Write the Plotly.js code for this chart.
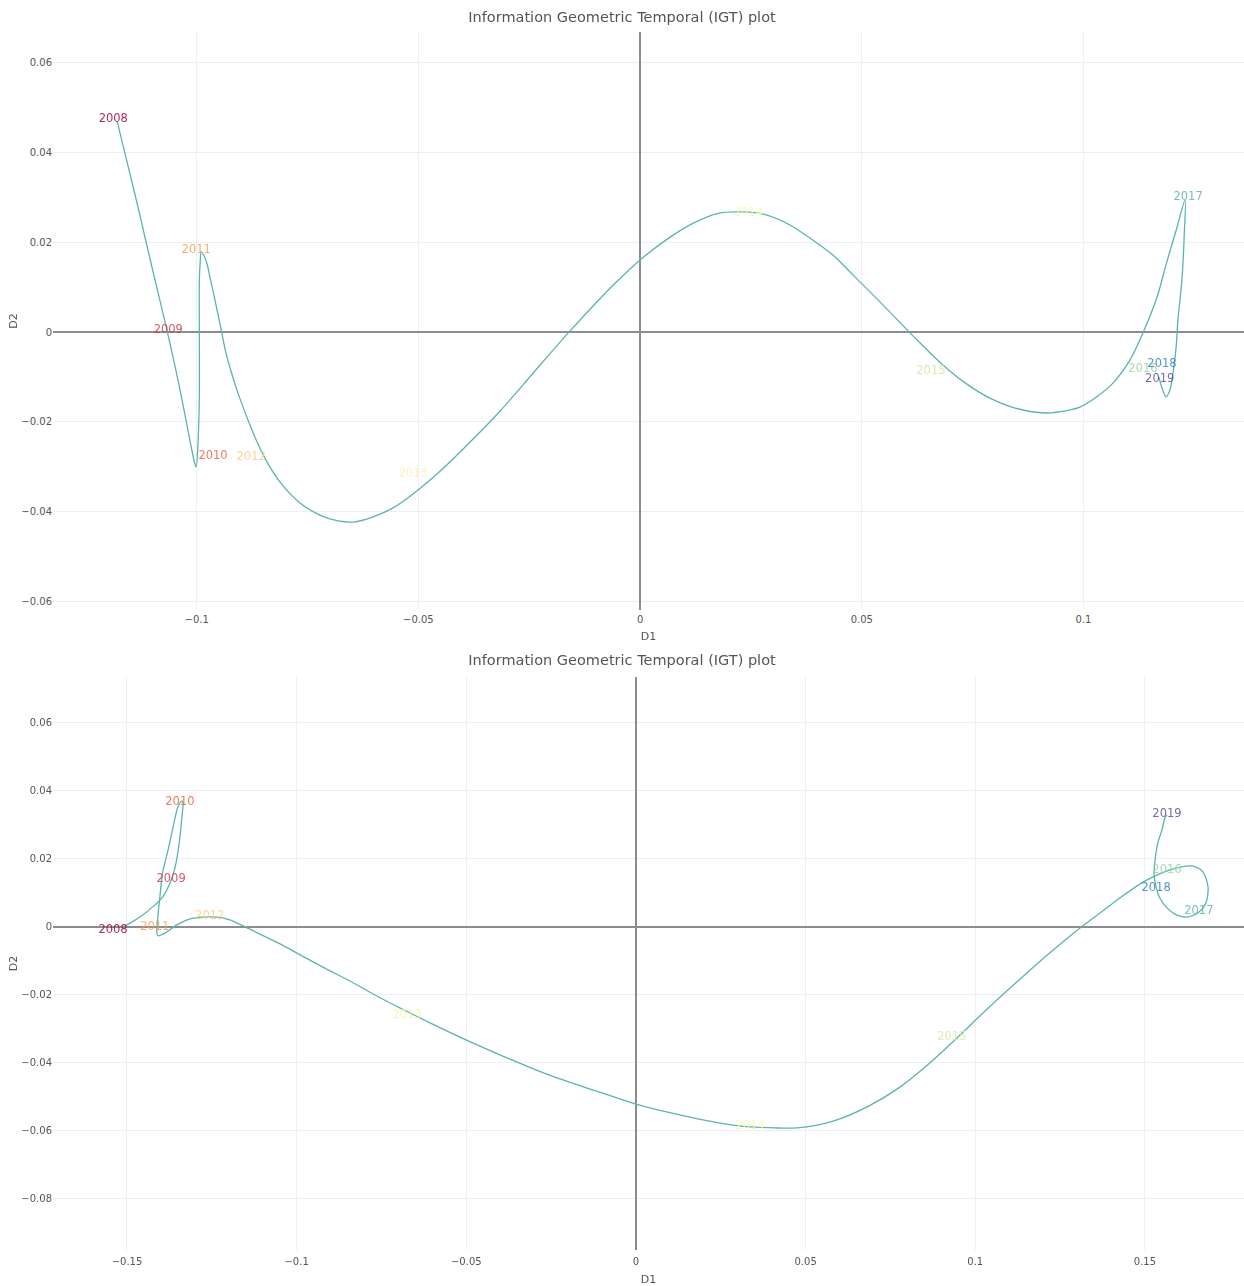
<!DOCTYPE html>
<html>
<head>
<meta charset="utf-8">
<script src="https://cdn.plot.ly/plotly-3.0.1.min.js"></script>
<style>
  html, body { margin: 0; padding: 0; background: #fff; }
  .fig { width: 1244px; height: 643px; }
</style>
</head>
<body>
<div id="igt1" class="fig"></div>
<div id="igt2" class="fig"></div>
<script>
// Years shown as labels on both plots
const years = ['2008','2009','2010','2011','2012','2013','2014','2015','2016','2017','2018','2019'];

// Label colours, one per year (Spectral ramp)
const yearColors = ['#9e0142','#d0384e','#ee6445','#fa9c59','#fece7c','#fff1a7',
                    '#f4faad','#d1ec9c','#98d6a4','#5db7a9','#3683bb','#5e4fa2'];

// ---- First plot: year positions ----
const d1YearA = [-0.1188,-0.1064,-0.0963,-0.1001,-0.0877,-0.0512,0.0244,0.0656,0.1134,0.1236,0.1177,0.1172];
const d2YearA = [ 0.0473, 0.0004,-0.0276, 0.0182,-0.0278,-0.0316,0.0264,-0.0087,-0.0082,0.0300,-0.0071,-0.0104];

// ---- First plot: smoothed trajectory ----
const d1PathA = [
  -0.1179,-0.1158,-0.1136,-0.1115,-0.1094,-0.1067,-0.1042,-0.1024,-0.1011,-0.1005,
  -0.1001,-0.0997,-0.0994,-0.0994,-0.0994,-0.0992,-0.0990,-0.0983,-0.0976,-0.0970,
  -0.0963,-0.0954,-0.0945,-0.0936,-0.0922,-0.0906,-0.0886,-0.0864,-0.0839,-0.0807,
  -0.0767,-0.0722,-0.0681,-0.0643,-0.0602,-0.0557,-0.0512,-0.0455,-0.0399,-0.0316,
  -0.0241,-0.0162,-0.0106,-0.0061, 0.0002, 0.0068, 0.0120, 0.0176, 0.0232, 0.0286,
   0.0338, 0.0390, 0.0435, 0.0480, 0.0541, 0.0620, 0.0676, 0.0733, 0.0789, 0.0846,
   0.0913, 0.0970, 0.0992, 0.1030, 0.1067, 0.1105, 0.1134, 0.1166, 0.1188, 0.1211,
   0.1229, 0.1227, 0.1222, 0.1213, 0.1209, 0.1202, 0.1195, 0.1186, 0.1177, 0.1170];
const d2PathA = [
   0.0467, 0.0382, 0.0293, 0.0204, 0.0116, 0.0004,-0.0107,-0.0196,-0.0262,-0.0289,
  -0.0300,-0.0247,-0.0144, 0.0004, 0.0116, 0.0156, 0.0178, 0.0169, 0.0149, 0.0122,
   0.0091, 0.0049, 0.0007,-0.0038,-0.0089,-0.0138,-0.0191,-0.0244,-0.0293,-0.0340,
  -0.0380,-0.0407,-0.0420,-0.0422,-0.0411,-0.0391,-0.0360,-0.0313,-0.0260,-0.0176,
  -0.0091,-0.0002, 0.0058, 0.0104, 0.0162, 0.0211, 0.0242, 0.0264, 0.0267, 0.0260,
   0.0238, 0.0204, 0.0171, 0.0127, 0.0067,-0.0013,-0.0067,-0.0113,-0.0147,-0.0169,
  -0.0180,-0.0173,-0.0167,-0.0144,-0.0113,-0.0062,-0.0002, 0.0078, 0.0156, 0.0233,
   0.0293, 0.0211, 0.0116, 0.0027,-0.0033,-0.0091,-0.0129,-0.0144,-0.0124,-0.0100];

// ---- Second plot: year positions ----
const d1YearB = [-0.1541,-0.1370,-0.1344,-0.1418,-0.1256,-0.0675,0.0336,0.0931,0.1565,0.1659,0.1533,0.1565];
const d2YearB = [-0.0009, 0.0141, 0.0368, 0.0000, 0.0032,-0.0259,-0.0585,-0.0324,0.0168,0.0047,0.0115,0.0332];

// ---- Second plot: smoothed trajectory ----
const d1PathB = [
  -0.1512,-0.1500,-0.1462,-0.1424,-0.1395,-0.1373,-0.1358,-0.1346,-0.1338,-0.1335,
  -0.1338,-0.1350,-0.1364,-0.1379,-0.1395,-0.1403,-0.1409,-0.1412,-0.1409,-0.1388,
  -0.1353,-0.1314,-0.1276,-0.1235,-0.1197,-0.1158,-0.1108,-0.1049,-0.0990,-0.0917,
  -0.0843,-0.0769,-0.0696,-0.0607,-0.0501,-0.0401,-0.0315,-0.0224,-0.0118, 0.0000,
   0.0159, 0.0304, 0.0410, 0.0475, 0.0581, 0.0687, 0.0778, 0.0866, 0.0955, 0.1029,
   0.1129, 0.1220, 0.1309, 0.1368, 0.1426, 0.1485, 0.1524, 0.1565, 0.1603, 0.1642,
   0.1671, 0.1686, 0.1680, 0.1656, 0.1624, 0.1594, 0.1565, 0.1544, 0.1533, 0.1527,
   0.1530, 0.1538, 0.1550, 0.1559, 0.1565];
const d2PathB = [
   0.0000, 0.0006, 0.0029, 0.0059, 0.0088, 0.0129, 0.0176, 0.0247, 0.0324, 0.0365,
   0.0371, 0.0353, 0.0294, 0.0226, 0.0159, 0.0088, 0.0029,-0.0015,-0.0026,-0.0018,
   0.0006, 0.0024, 0.0029, 0.0029, 0.0021, 0.0003,-0.0021,-0.0050,-0.0082,-0.0121,
  -0.0159,-0.0200,-0.0238,-0.0282,-0.0332,-0.0376,-0.0412,-0.0447,-0.0482,-0.0521,
  -0.0559,-0.0585,-0.0591,-0.0591,-0.0571,-0.0526,-0.0471,-0.0400,-0.0318,-0.0247,
  -0.0156,-0.0076,-0.0003, 0.0041, 0.0085, 0.0126, 0.0147, 0.0165, 0.0176, 0.0179,
   0.0162, 0.0118, 0.0071, 0.0041, 0.0029, 0.0035, 0.0056, 0.0085, 0.0118, 0.0153,
   0.0197, 0.0247, 0.0285, 0.0321, 0.0329];

const FONT = 'DejaVu Sans, Verdana, sans-serif';

function drawIGT(divId, pathX, pathY, yearX, yearY, xRange, yRange, margin, tickShift) {
  const pathTrace = {
    x: pathX, y: pathY,
    type: 'scatter', mode: 'lines',
    line: { color: '#5ab4ae', width: 1.3, shape: 'spline', smoothing: 0.8 },
    hoverinfo: 'skip', showlegend: false
  };
  const labelTrace = {
    x: yearX, y: yearY, text: years,
    type: 'scatter', mode: 'text',
    textposition: 'middle center',
    textfont: { family: FONT, size: 11.5, color: yearColors },
    opacity: 0.85,
    hoverinfo: 'skip', showlegend: false
  };
  const axisStyle = {
    showgrid: true, gridcolor: '#efefef', gridwidth: 1,
    zeroline: true, zerolinecolor: '#8c8c8c', zerolinewidth: 1.6,
    showline: false, ticks: '',
    tickfont: { family: FONT, size: 10, color: '#555' }
  };
  const layout = {
    width: 1244, height: 643,
    margin: margin,
    paper_bgcolor: '#ffffff', plot_bgcolor: '#ffffff',
    font: { family: FONT, color: '#555' },
    title: {
      text: 'Information Geometric Temporal (IGT) plot',
      font: { family: FONT, size: 14.5, color: '#555' },
      x: 0.5, xanchor: 'center', y: 1, yanchor: 'top', pad: { t: 12 }
    },
    xaxis: Object.assign({}, axisStyle, {
      range: xRange, dtick: 0.05, ticklabelstandoff: tickShift,
      title: { text: 'D1', font: { family: FONT, size: 11, color: '#555' }, standoff: 10 }
    }),
    yaxis: Object.assign({}, axisStyle, {
      range: yRange, dtick: 0.02,
      title: { text: 'D2', font: { family: FONT, size: 11, color: '#555' }, standoff: 1 }
    })
  };
  Plotly.newPlot(divId, [pathTrace, labelTrace], layout, { displayModeBar: false, staticPlot: true });
}

drawIGT('igt1', d1PathA, d2PathA, d1YearA, d2YearA,
        [-0.1324, 0.1362], [-0.0618, 0.0667],
        { l: 53, r: 0, t: 32, b: 33 }, 2);
drawIGT('igt2', d1PathB, d2PathB, d1YearB, d2YearB,
        [-0.1718, 0.1792], [-0.0950, 0.0735],
        { l: 53, r: 0, t: 34, b: 36 }, 4);
</script>
</body>
</html>
